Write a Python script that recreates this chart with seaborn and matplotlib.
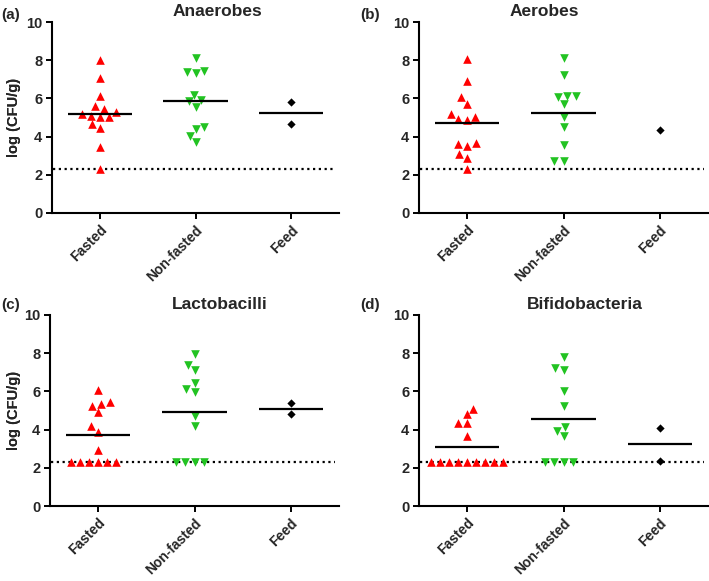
import matplotlib
matplotlib.use("Agg")
import matplotlib.pyplot as plt
import pandas as pd
import seaborn as sns

GROUPS = ["Fasted", "Non-fasted", "Feed"]
COLORS = ["#ff0000", "#22c322", "#000000"]
MARKERS = ["^", "v", "D"]
SIZES = [6.2, 6.2, 4.2]

LOD = 2.3

PANELS = ["Anaerobes", "Aerobes", "Lactobacilli", "Bifidobacteria"]
LETTERS = ["(a)", "(b)", "(c)", "(d)"]

anaerobes_fasted = [8.0, 7.05, 6.1, 5.6, 5.3, 5.05, 5.1, 5.05, 5.2, 5.45, 4.65, 4.45, 3.45, 2.3]
anaerobes_nonfasted = [8.1, 7.45, 7.35, 7.4, 6.2, 5.9, 5.85, 5.55, 4.5, 4.4, 4.05, 3.7]
anaerobes_feed = [5.8, 4.65]

aerobes_fasted = [8.05, 6.9, 6.05, 5.7, 5.2, 5.05, 4.85, 4.9, 3.65, 3.5, 3.6, 3.1, 2.9, 2.3]
aerobes_nonfasted = [8.1, 7.2, 6.15, 6.05, 6.15, 5.7, 5.05, 4.5, 3.55, 2.7, 2.7]
aerobes_feed = [4.35]

lacto_fasted = [6.05, 5.35, 5.45, 5.25, 4.9, 4.2, 3.9, 2.95, 2.3, 2.3, 2.3, 2.3, 2.3, 2.3]
lacto_nonfasted = [7.95, 7.4, 7.1, 6.45, 5.95, 6.1, 4.7, 4.2, 2.3, 2.3, 2.3, 2.3]
lacto_feed = [4.8, 5.4]

bifido_fasted = [5.1, 4.8, 4.35, 4.35, 3.65, 2.3, 2.3, 2.3, 2.3, 2.3, 2.3, 2.3, 2.3, 2.3]
bifido_nonfasted = [7.8, 7.1, 7.25, 6.0, 5.25, 3.95, 4.15, 3.65, 2.3, 2.3, 2.3, 2.3]
bifido_feed = [4.1, 2.35]

PANEL_DATA = [
    [anaerobes_fasted, anaerobes_nonfasted, anaerobes_feed],
    [aerobes_fasted, aerobes_nonfasted, aerobes_feed],
    [lacto_fasted, lacto_nonfasted, lacto_feed],
    [bifido_fasted, bifido_nonfasted, bifido_feed],
]

# axes boxes in pixels (left, top, right, bottom) and title x in axes fraction
W, H = 709, 581
BOXES = [(52, 22, 339, 213), (419, 22, 708, 213), (50, 315, 339, 506), (419, 315, 708, 506)]
TITLE_X = [0.578, 0.433, 0.588, 0.574]
LETTER_POS = [(1, 8), (360, 8), (1, 298), (360, 298)]


def _long(groups_values):
    rows = []
    for grp, vals in zip(GROUPS, groups_values):
        for v in vals:
            rows.append({"group": grp, "value": v})
    return pd.DataFrame(rows)


sns.set_style("ticks")
plt.rcParams["font.family"] = ["Liberation Sans", "DejaVu Sans"]
plt.rcParams["font.weight"] = "bold"

fig = plt.figure(figsize=(W / 100, H / 100), dpi=100)

for i, name in enumerate(PANELS):
    l, t, r, b = BOXES[i]
    ax = fig.add_axes([l / W, 1 - b / H, (r - l) / W, (b - t) / H])
    df = _long(PANEL_DATA[i])

    for grp, color, marker, size in zip(GROUPS, COLORS, MARKERS, SIZES):
        sub = df[df["group"] == grp]
        sns.swarmplot(data=sub, x="group", y="value", order=GROUPS, color=color,
                      marker=marker, size=size, linewidth=0, ax=ax, zorder=3)

    means = df.groupby("group")["value"].agg(["mean", "count"])
    for k, grp in enumerate(GROUPS):
        if means.loc[grp, "count"] > 1:
            ax.hlines(means.loc[grp, "mean"], k - 0.335, k + 0.335, color="black", lw=1.6, zorder=4)

    ax.axhline(LOD, xmin=0.005, xmax=0.985, color="black", lw=1.6,
               linestyle=(0, (1, 1.6)), zorder=2)

    ax.set_xlim(-0.5, 2.5)
    ax.set_ylim(0, 10)
    ax.set_yticks([0, 2, 4, 6, 8, 10])
    ax.set_xlabel("")
    ax.set_ylabel("log (CFU/g)", fontsize=10.5, fontweight="bold")
    ax.yaxis.set_label_coords((21 - l) / (r - l), 0.5)
    ax.set_xticks(range(len(GROUPS)))
    ax.set_xticklabels(GROUPS, rotation=45, ha="right", rotation_mode="anchor",
                       fontsize=10, fontweight="bold")
    for lab in ax.get_yticklabels():
        lab.set_fontsize(10.5)
        lab.set_fontweight("bold")
    ax.tick_params(axis="both", length=4.5, width=1.4, color="black", pad=2.5)
    for side in ["left", "bottom"]:
        ax.spines[side].set_linewidth(1.5)
        ax.spines[side].set_color("black")
    sns.despine(ax=ax)
    ax.set_title(name, x=TITLE_X[i], y=1.0, pad=4, fontsize=12.5, fontweight="bold")

    lx, ly = LETTER_POS[i]
    fig.text(lx / W, 1 - ly / H, LETTERS[i], fontsize=11, fontweight="bold", va="top", ha="left")

fig.savefig("out.png", dpi=100)
